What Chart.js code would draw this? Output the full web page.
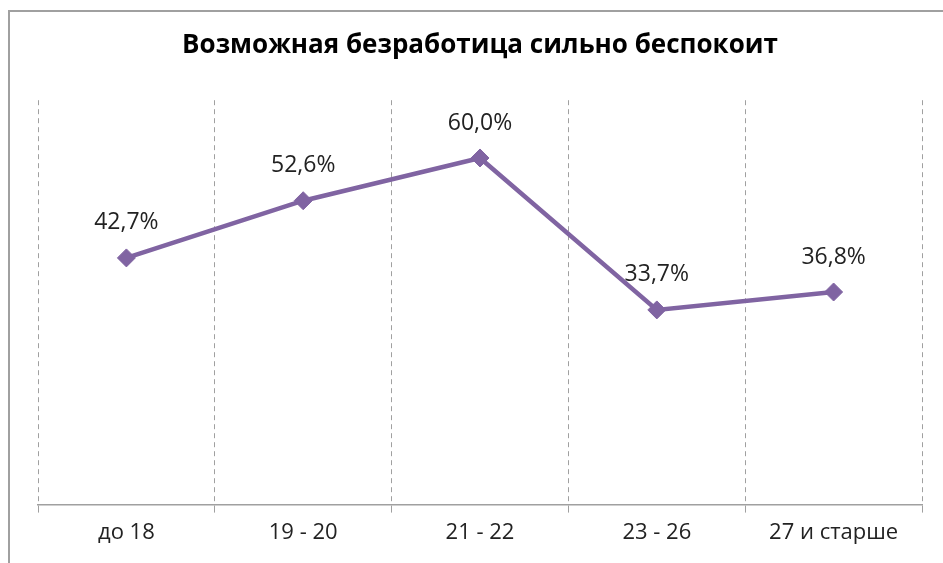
<!DOCTYPE html>
<html>
<head>
<meta charset="utf-8">
<script src="https://cdn.jsdelivr.net/npm/chart.js@4"></script>
<style>
  html, body { margin: 0; padding: 0; background: #fff; }
  #wrap { width: 943px; height: 563px; }
</style>
</head>
<body>
<div id="wrap"><canvas id="chart" width="943" height="563"></canvas></div>
<script>
const categories = ['до 18', '19 - 20', '21 - 22', '23 - 26', '27 и старше'];
const values = [42.7, 52.6, 60.0, 33.7, 36.8];
const yMin = 0;
const yMax = 70;

// frame lines (left and top only, as in the picture)
const framePlugin = {
    id: 'frame',
    beforeDraw(chart) {
        const ctx = chart.ctx;
        ctx.save();
        ctx.strokeStyle = '#a0a0a0';
        ctx.lineWidth = 2;
        ctx.beginPath();
        ctx.moveTo(9, 563);
        ctx.lineTo(9, 11);
        ctx.lineTo(943, 11);
        ctx.stroke();
        ctx.restore();
    }
};

// value labels above the points
const valueLabels = {
    id: 'valueLabels',
    afterDatasetsDraw(chart) {
        const ctx = chart.ctx;
        const meta = chart.getDatasetMeta(0);
        ctx.save();
        ctx.font = '23px "Open Sans"';
        ctx.fillStyle = '#222';
        ctx.textAlign = 'center';
        ctx.textBaseline = 'middle';
        meta.data.forEach((pt, i) => {
            const txt = values[i].toFixed(1).replace('.', ',') + '%';
            ctx.fillText(txt, pt.x, pt.y - 35);
        });
        ctx.restore();
    }
};

const ctx = document.getElementById('chart').getContext('2d');

new Chart(ctx, {
    type: 'line',
    data: {
        labels: categories,
        datasets: [{
            label: 'Возможная безработица сильно беспокоит',
            data: values,
            borderColor: '#8064a2',
            backgroundColor: '#8064a2',
            borderWidth: 4.5,
            pointStyle: 'rectRot',
            pointRadius: 9,
            pointBorderWidth: 1,
            tension: 0
        }]
    },
    options: {
        responsive: false,
        animation: false,
        layout: { padding: { left: 38, right: 21, top: 0, bottom: 10 } },
        plugins: {
            legend: { display: false },
            tooltip: { enabled: false },
            title: {
                display: true,
                text: 'Возможная безработица сильно беспокоит',
                color: '#000',
                font: { family: 'Open Sans', size: 26, weight: 'bold' },
                padding: { top: 30, bottom: 39 }
            }
        },
        scales: {
            x: {
                offset: true,
                grid: {
                    offset: true,
                    color: '#a0a0a0',
                    lineWidth: 1,
                    tickLength: 8,
                    tickColor: '#a0a0a0'
                },
                border: { color: '#a0a0a0', width: 1.5, dash: [5, 4] },
                ticks: {
                    color: '#222',
                    padding: 7,
                    font: { family: 'Open Sans', size: 22 }
                }
            },
            y: {
                display: false,
                min: yMin,
                max: yMax
            }
        }
    },
    plugins: [framePlugin, valueLabels]
});
</script>
</body>
</html>
